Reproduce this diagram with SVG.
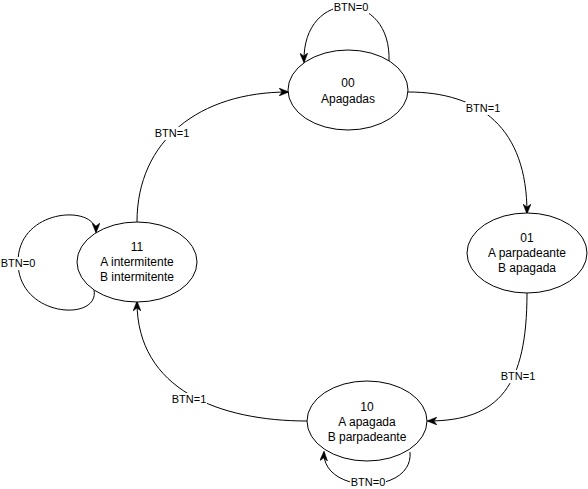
<svg xmlns="http://www.w3.org/2000/svg" width="588" height="489" viewBox="0 0 588 489">
<style>
.node ellipse{fill:#fff;stroke:#000;stroke-width:1}
.node text{font-family:"Liberation Sans",Arial,sans-serif;font-size:12px;fill:#000;text-anchor:middle}
.edge{fill:none;stroke:#000;stroke-width:1;marker-end:url(#arr)}
.lbl rect{fill:#fff}
.lbl text{font-family:"Liberation Sans",Arial,sans-serif;font-size:11px;fill:#000;text-anchor:middle}
</style>
<defs>
<marker id="arr" viewBox="0 0 10 8" refX="9" refY="4" markerWidth="10" markerHeight="8" orient="auto" markerUnits="userSpaceOnUse">
<path d="M0,0 L10,4 L0,8 L3,4 Z" fill="#000" stroke="#000" stroke-width="0.5"/>
</marker>
</defs>
<rect width="588" height="489" fill="#fff"/>
<g id="connectors">
<path class="edge" d="M389,62 C392,-12 302,-12 304,62"/>
<path class="edge" d="M408,92 C480,92 527,128 527,213"/>
<path class="edge" d="M527,293 C527,385 500,421 428,421"/>
<path class="edge" d="M410,452 C414,495 322,495 324,452"/>
<path class="edge" d="M307,421 C220,421 137,390 137,302"/>
<path class="edge" d="M94,290 C100,322 18,318 18,262 C18,208 96,204 96,232"/>
<path class="edge" d="M137,222 C137,140 200,92 288,92"/>
<g class="lbl"><rect x="333" y="1" width="36" height="13"/><text x="351" y="11">BTN=0</text></g>
<g class="lbl"><rect x="465" y="102" width="36" height="13"/><text x="483" y="112">BTN=1</text></g>
<g class="lbl"><rect x="500" y="370" width="36" height="13"/><text x="518" y="380">BTN=1</text></g>
<g class="lbl"><rect x="350" y="476" width="36" height="13"/><text x="368" y="486">BTN=0</text></g>
<g class="lbl"><rect x="171" y="393" width="36" height="13"/><text x="189" y="403">BTN=1</text></g>
<g class="lbl"><rect x="0" y="257" width="36" height="13"/><text x="18" y="267">BTN=0</text></g>
<g class="lbl"><rect x="154" y="127" width="36" height="13"/><text x="172" y="137">BTN=1</text></g>
</g>
<g id="s00" class="node"><ellipse cx="348" cy="90" rx="60" ry="40"/><text x="348" y="87">00</text><text x="348" y="103">Apagadas</text></g>
<g id="s01" class="node"><ellipse cx="527" cy="253" rx="60" ry="40"/><text x="527" y="242">01</text><text x="527" y="257">A parpadeante</text><text x="527" y="272">B apagada</text></g>
<g id="s10" class="node"><ellipse cx="367" cy="421" rx="60" ry="40"/><text x="367" y="411">10</text><text x="367" y="426">A apagada</text><text x="367" y="441">B parpadeante</text></g>
<g id="s11" class="node"><ellipse cx="137" cy="262" rx="60" ry="40"/><text x="137" y="251">11</text><text x="137" y="266">A intermitente</text><text x="137" y="281">B intermitente</text></g>
</svg>
